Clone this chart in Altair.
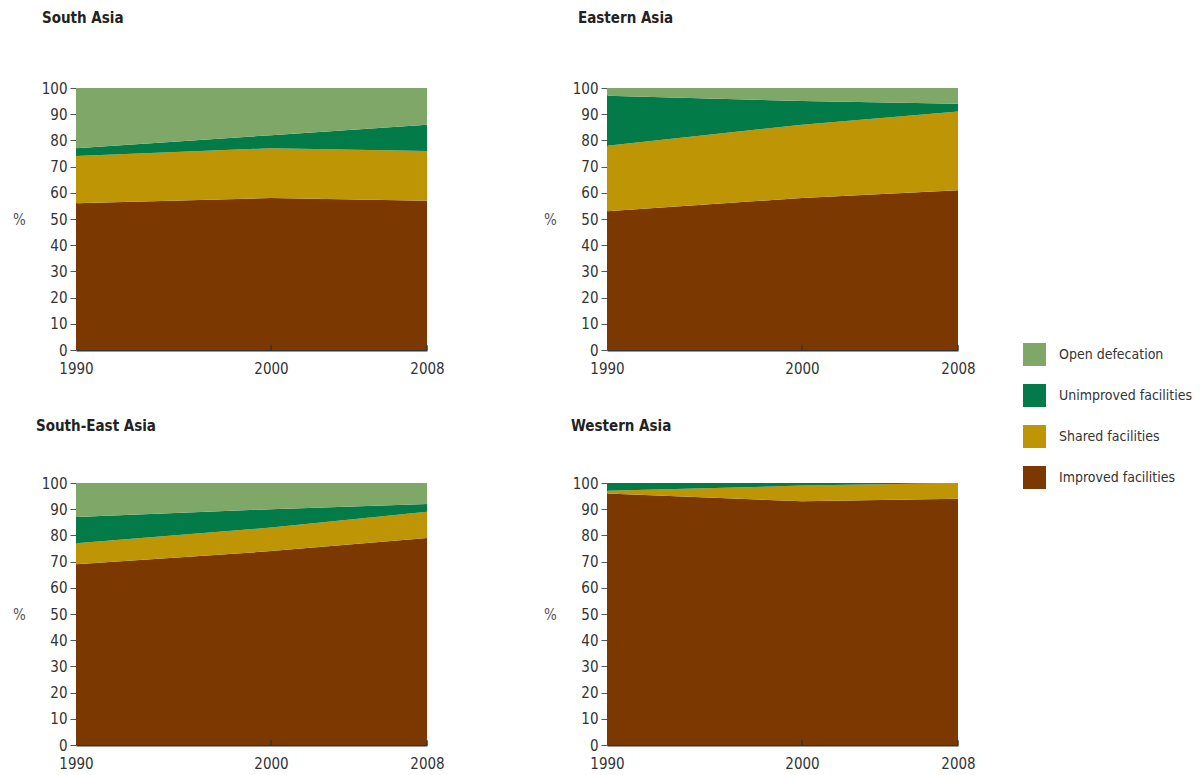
import altair as alt
import pandas as pd

years = [1990, 2000, 2008]
inner_tick_years = [2000, 2008]
y_ticks = [0, 10, 20, 30, 40, 50, 60, 70, 80, 90, 100]
categories = ["Open defecation", "Unimproved facilities", "Shared facilities", "Improved facilities"]
colors = ["#7fa767", "#027b48", "#bd9505", "#7b3800"]
stack_rank = {"Improved facilities": 0, "Shared facilities": 1, "Unimproved facilities": 2, "Open defecation": 3}

regions = ["South Asia", "Eastern Asia", "South-East Asia", "Western Asia"]

south_asia = {
    "Improved facilities": [56, 58, 57],
    "Shared facilities": [18, 19, 19],
    "Unimproved facilities": [3, 5, 10],
    "Open defecation": [23, 18, 14],
}
eastern_asia = {
    "Improved facilities": [53, 58, 61],
    "Shared facilities": [25, 28, 30],
    "Unimproved facilities": [19, 9, 3],
    "Open defecation": [3, 5, 6],
}
south_east_asia = {
    "Improved facilities": [69, 74, 79],
    "Shared facilities": [8, 9, 10],
    "Unimproved facilities": [10, 7, 3],
    "Open defecation": [13, 10, 8],
}
western_asia = {
    "Improved facilities": [96, 93, 94],
    "Shared facilities": [1, 6, 6],
    "Unimproved facilities": [3, 1, 0],
    "Open defecation": [0, 0, 0],
}
region_data = [south_asia, eastern_asia, south_east_asia, western_asia]
title_dx = [-34, -29, -40, -36]
title_offset = [55, 55, 42, 42]

FONT = "'DejaVu Sans Condensed', 'Roboto Condensed', Roboto, sans-serif"


def make_axes():
    xaxis = alt.Axis(values=years, format="d", title=None, ticks=False, labelFlush=False,
                     labelOverlap=False, domainColor="#333333", domainWidth=2, labelPadding=11)
    yaxis = alt.Axis(values=y_ticks, title="%", titleAngle=0, tickCount=11,
                     titleX=-57, titleY=131, titleAlign="center", titleBaseline="middle",
                     titleFontWeight="normal", titleFontSize=15, titleColor="#555555",
                     tickSize=6, tickColor="#555555", domainColor="#555555",
                     labelOverlap=False, labelPadding=3)
    return xaxis, yaxis


def panel(name, data, dx, off, show_legend):
    rows = []
    for cat, vals in data.items():
        for y, v in zip(years, vals):
            rows.append({"year": y, "category": cat, "value": v, "rank": stack_rank[cat]})
    df = pd.DataFrame(rows)
    color_kwargs = dict(scale=alt.Scale(domain=categories, range=colors))
    if show_legend:
        color = alt.Color("category:N", legend=alt.Legend(title=None), **color_kwargs)
    else:
        color = alt.Color("category:N", legend=None, **color_kwargs)
    xscale = alt.Scale(domain=[1990, 2008], nice=False, zero=False)
    yscale = alt.Scale(domain=[0, 100], nice=False)
    xaxis, yaxis = make_axes()
    area = alt.Chart(df).mark_area(opacity=1).encode(
        x=alt.X("year:Q", scale=xscale, axis=xaxis),
        y=alt.Y("value:Q", stack="zero", scale=yscale, axis=yaxis),
        color=color,
        order=alt.Order("rank:Q", sort="ascending"),
    )
    ticks_df = pd.DataFrame({"year": inner_tick_years, "y0": [0] * len(inner_tick_years),
                             "y1": [1.8] * len(inner_tick_years)})
    xaxis2, yaxis2 = make_axes()
    ticks = alt.Chart(ticks_df).mark_rule(color="#333333", strokeWidth=1.5).encode(
        x=alt.X("year:Q", scale=xscale, axis=xaxis2),
        y=alt.Y("y0:Q", scale=yscale, axis=yaxis2),
        y2="y1:Q",
    )
    return alt.layer(area, ticks).properties(
        width=351, height=262,
        title=alt.TitleParams(name, anchor="start", frame="group", dx=dx, offset=off, fontSize=15,
                              font=FONT, fontWeight="bold", color="#222222"),
    )


panels = [panel(n, d, dx, off, i == 0)
          for i, (n, d, dx, off) in enumerate(zip(regions, region_data, title_dx, title_offset))]

chart = alt.concat(*panels, columns=2, spacing={"row": 133, "column": 180}, bounds="flush").properties(
    padding={"left": 4, "top": 3, "right": 0, "bottom": 0}
).configure_view(stroke=None).configure_axis(
    labelFont=FONT, labelFontSize=15, labelColor="#333333", titleFont=FONT, grid=False
).configure_legend(
    orient="none", legendX=947, legendY=255, symbolType="square", symbolSize=529,
    symbolStrokeWidth=0, labelFont=FONT, labelFontSize=14, labelColor="#333333",
    rowPadding=18, labelOffset=13, symbolOpacity=1
)

chart.save("out.html", embed_options={"renderer": "svg", "actions": False})
